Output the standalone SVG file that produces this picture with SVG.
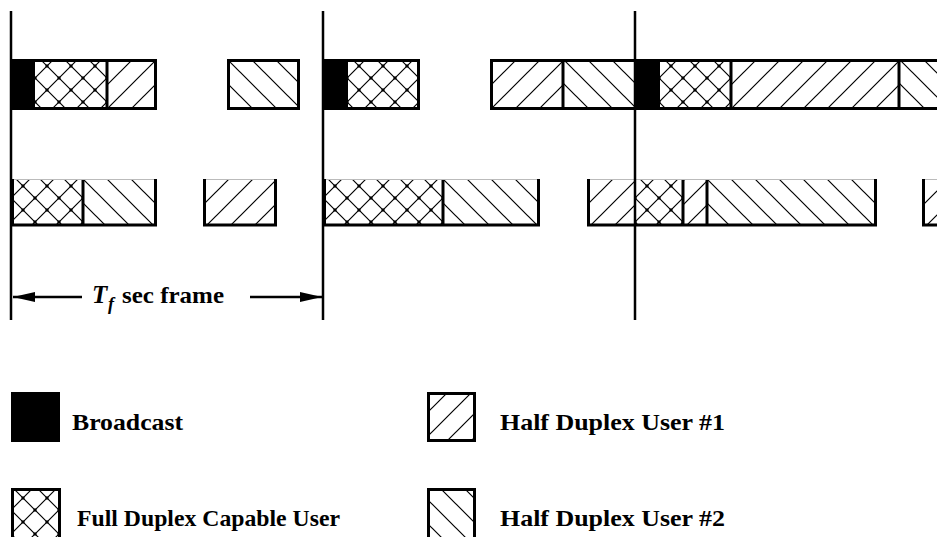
<svg xmlns="http://www.w3.org/2000/svg" width="937" height="537" viewBox="0 0 937 537">
<style>
.lbl{font-family:"Liberation Serif","Times New Roman",serif;font-weight:bold;font-size:24px;fill:#000}
.it{font-style:italic}
.edge{stroke:#000;stroke-width:3;fill:none}
.div{stroke:#000;stroke-width:3}
.top{stroke:#bbb;stroke-width:1}
.frame{stroke:#000;stroke-width:2.5}
.dim{stroke:#000;stroke-width:2.5}
.pl{stroke:#000;stroke-width:1.2;fill:none}
</style>
<defs>
<pattern id="cross" patternUnits="userSpaceOnUse" width="24" height="24" x="11" y="6">
<rect width="24" height="24" fill="#fff"/>
<path class="pl" d="M0,0L24,24M24,0L0,24"/>
<rect x="10.5" y="10.5" width="3" height="3" fill="#000"/>
<rect x="-1.5" y="-1.5" width="3" height="3" fill="#000"/>
<rect x="22.5" y="-1.5" width="3" height="3" fill="#000"/>
<rect x="-1.5" y="22.5" width="3" height="3" fill="#000"/>
<rect x="22.5" y="22.5" width="3" height="3" fill="#000"/>
</pattern>
<pattern id="hd1" patternUnits="userSpaceOnUse" width="24" height="24" x="0" y="0">
<rect width="24" height="24" fill="#fff"/>
<path class="pl" d="M0,24L24,0M-6,6L6,-6M18,30L30,18"/>
</pattern>
<pattern id="hd2" patternUnits="userSpaceOnUse" width="24" height="24" x="0" y="0">
<rect width="24" height="24" fill="#fff"/>
<path class="pl" d="M0,0L24,24M18,-6L30,6M-6,18L6,30"/>
</pattern>
<marker id="ah" viewBox="0 0 22 10" refX="22" refY="5" markerWidth="22" markerHeight="10" markerUnits="userSpaceOnUse" orient="auto">
<path d="M0,0L22,5L0,10Z" fill="#000"/>
</marker>
</defs>
<rect width="937" height="537" fill="#fff"/>

<!-- top row -->
<g id="slots-top-frame1">
<rect x="11" y="60" width="24" height="49" fill="#000"/>
<rect x="35" y="60" width="72" height="49" fill="url(#cross)"/>
<rect x="107" y="60" width="50" height="49" fill="url(#hd1)"/>
<line class="div" x1="107" y1="60" x2="107" y2="109"/>
<rect class="edge" x="12" y="60.5" width="143.5" height="48"/>
<rect x="227" y="60" width="73" height="49" fill="url(#hd2)"/>
<rect class="edge" x="228.5" y="60.5" width="70" height="48"/>
</g>
<g id="slots-top-frame2">
<rect x="323" y="60" width="25" height="49" fill="#000"/>
<rect x="348" y="60" width="72" height="49" fill="url(#cross)"/>
<rect class="edge" x="324" y="60.5" width="94.5" height="48"/>
<rect x="490" y="60" width="73" height="49" fill="url(#hd1)"/>
<rect x="563" y="60" width="72" height="49" fill="url(#hd2)"/>
<line class="div" x1="563" y1="60" x2="563" y2="109"/>
</g>
<g id="slots-top-frame3">
<rect x="635" y="60" width="25" height="49" fill="#000"/>
<rect x="660" y="60" width="71" height="49" fill="url(#cross)"/>
<rect x="731" y="60" width="168" height="49" fill="url(#hd1)"/>
<rect x="899" y="60" width="46" height="49" fill="url(#hd2)"/>
<line class="div" x1="731" y1="60" x2="731" y2="109"/>
<line class="div" x1="899" y1="60" x2="899" y2="109"/>
<rect class="edge" x="491.5" y="60.5" width="460" height="48"/>
</g>

<!-- bottom row -->
<g id="slots-bottom-frame1">
<rect x="11" y="179" width="72" height="46" fill="url(#cross)"/>
<rect x="83" y="179" width="74" height="46" fill="url(#hd2)"/>
<line class="div" x1="83" y1="179" x2="83" y2="226"/>
<line class="top" x1="11" y1="179.5" x2="157" y2="179.5"/>
<path class="edge" d="M12.5,179V225H155.5V179"/>
<rect x="203" y="179" width="74" height="46" fill="url(#hd1)"/>
<line class="top" x1="203" y1="179.5" x2="277" y2="179.5"/>
<path class="edge" d="M204.5,179V225H275.5V179"/>
</g>
<g id="slots-bottom-frame2">
<rect x="323" y="179" width="120" height="46" fill="url(#cross)"/>
<rect x="443" y="179" width="97" height="46" fill="url(#hd2)"/>
<line class="div" x1="443" y1="179" x2="443" y2="226"/>
<line class="top" x1="323" y1="179.5" x2="540" y2="179.5"/>
<path class="edge" d="M324.5,179V225H538.5V179"/>
<rect x="587" y="179" width="48" height="46" fill="url(#hd1)"/>
</g>
<g id="slots-bottom-frame3">
<rect x="635" y="179" width="48" height="46" fill="url(#cross)"/>
<rect x="683" y="179" width="24" height="46" fill="url(#hd1)"/>
<rect x="707" y="179" width="170" height="46" fill="url(#hd2)"/>
<line class="div" x1="683" y1="179" x2="683" y2="226"/>
<line class="div" x1="707" y1="179" x2="707" y2="226"/>
<line class="top" x1="587" y1="179.5" x2="877" y2="179.5"/>
<path class="edge" d="M588.5,179V225H875.5V179"/>
<rect x="922" y="179" width="23" height="46" fill="url(#hd1)"/>
<line class="top" x1="922" y1="179.5" x2="945" y2="179.5"/>
<path class="edge" d="M923.5,179V225H945"/>
</g>

<!-- frame boundaries -->
<g id="frame-lines">
<line class="frame" x1="11" y1="11" x2="11" y2="320"/>
<line class="frame" x1="323" y1="11" x2="323" y2="320"/>
<line class="frame" x1="635" y1="11" x2="635" y2="320"/>
</g>

<!-- dimension arrow -->
<g id="connectors">
<line class="dim" x1="82" y1="297" x2="13" y2="297" marker-end="url(#ah)"/>
<line class="dim" x1="250" y1="297" x2="322" y2="297" marker-end="url(#ah)"/>
</g>
<g id="frame-label">
<text class="lbl it" x="92" y="303" style="font-size:25px">T</text>
<text class="lbl it" x="108" y="310" style="font-size:18px">f</text>
<text class="lbl" x="122" y="303" textLength="102" lengthAdjust="spacingAndGlyphs">sec frame</text>
</g>

<!-- legend -->
<g id="legend-broadcast">
<rect x="11" y="392" width="49" height="50" fill="#000"/>
<text class="lbl" x="72" y="430" textLength="111" lengthAdjust="spacingAndGlyphs">Broadcast</text>
</g>
<g id="legend-full-duplex">
<rect x="11" y="488" width="50" height="52" fill="url(#cross)"/>
<rect class="edge" x="12.5" y="489.5" width="47" height="52"/>
<text class="lbl" x="77" y="526" textLength="263" lengthAdjust="spacingAndGlyphs">Full Duplex Capable User</text>
</g>
<g id="legend-hd1">
<rect x="427" y="392" width="49" height="50" fill="url(#hd1)"/>
<rect class="edge" x="428.5" y="393.5" width="46" height="47"/>
<text class="lbl" x="500" y="430" textLength="225" lengthAdjust="spacingAndGlyphs">Half Duplex User #1</text>
</g>
<g id="legend-hd2">
<rect x="427" y="488" width="49" height="52" fill="url(#hd2)"/>
<rect class="edge" x="428.5" y="489.5" width="46" height="52"/>
<text class="lbl" x="500" y="526" textLength="225" lengthAdjust="spacingAndGlyphs">Half Duplex User #2</text>
</g>
</svg>
